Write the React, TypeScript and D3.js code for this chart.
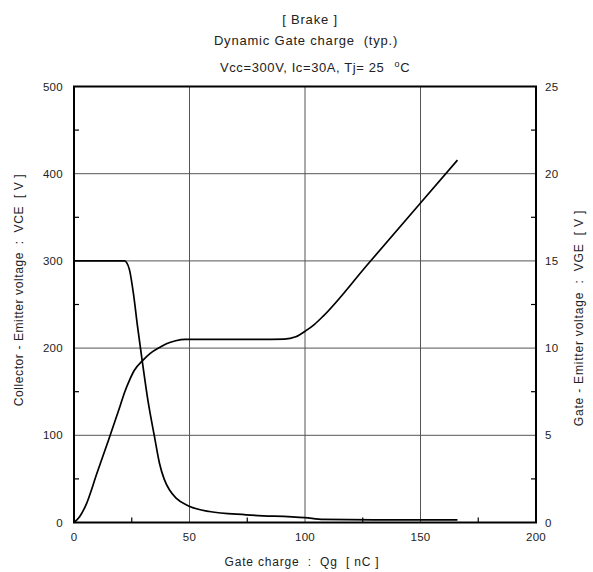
import React from "react";
import * as d3 from "d3";

const qgVce = [0, 10, 20, 21.8, 22.8, 24, 25.7, 27.5, 29.5, 32, 34.8, 37, 39, 41.3, 44.2, 49.6, 58.6, 74.5, 100, 108, 130, 166];
const vce = [300, 300, 300, 300, 298, 290, 263, 225, 186, 140, 99, 68, 50, 37.5, 28, 19, 12.6, 8.8, 5.5, 3.5, 3, 3];

const qgVge = [0, 2.5, 5, 10, 15, 20, 22, 24, 26, 29.8, 33, 37, 40, 44, 48, 60, 80, 91, 96, 100.4, 104, 108, 127, 150, 166];
const vge = [0, 0.35, 0.95, 2.85, 4.75, 6.7, 7.5, 8.15, 8.7, 9.3, 9.7, 10.03, 10.25, 10.42, 10.5, 10.5, 10.5, 10.52, 10.65, 11.0, 11.35, 11.85, 14.78, 18.32, 20.78];

const xTicks = [0, 50, 100, 150, 200];
const xMinor = [25, 75, 125, 175];
const yLeftTicks = [0, 100, 200, 300, 400, 500];
const yLeftMinor = [50, 150, 250, 350, 450];
const yRightTicks = [0, 5, 10, 15, 20, 25];
const yRightMinor = [2.5, 7.5, 12.5, 17.5, 22.5];

const titleLines = ["[ Brake ]", "Dynamic Gate charge  (typ.)"];
const xLabel = "Gate charge  :  Qg  [ nC ]";
const yLeftLabel = "Collector - Emitter voltage  :  VCE  [ V ]";
const yRightLabel = "Gate - Emitter voltage  :  VGE  [ V ]";

export default function App() {
  const L = 74, R = 536, T = 86.5, B = 522.5;
  const x = d3.scaleLinear().domain([0, 200]).range([L, R]);
  const yL = d3.scaleLinear().domain([0, 500]).range([B, T]);
  const yR = d3.scaleLinear().domain([0, 25]).range([B, T]);

  const lineVce = d3
    .line<number>()
    .x((_, i) => x(qgVce[i]))
    .y((d) => yL(d))
    .curve(d3.curveMonotoneX);
  const lineVge = d3
    .line<number>()
    .x((_, i) => x(qgVge[i]))
    .y((d) => yR(d))
    .curve(d3.curveMonotoneX);

  const font = "'Liberation Sans', Arial, Helvetica, sans-serif";
  const txt = "#222";
  const grid = "#555";
  const pre: React.CSSProperties = { whiteSpace: "pre" };

  return (
    <svg
      width={593}
      height={572}
      style={{ position: "absolute", left: 0, top: 0, background: "#fff" }}
      fontFamily={font}
    >
      <rect x={0} y={0} width={593} height={572} fill="#fff" />
      {/* titles */}
      <text x={310} y={24} fontSize={13} letterSpacing={0.8} textAnchor="middle" fill={txt} style={pre}>{titleLines[0]}</text>
      <text x={306} y={45} fontSize={13} letterSpacing={0.8} textAnchor="middle" fill={txt} style={pre}>{titleLines[1]}</text>
      <text x={220} y={72} fontSize={13} letterSpacing={0.6} fill={txt} style={pre}>
        {"Vcc=300V, Ic=30A, Tj= 25 "}
        <tspan dx={6} dy={-5} fontSize={9}>o</tspan>
        <tspan dy={5}>C</tspan>
      </text>

      {/* grid */}
      {xTicks.slice(1, -1).map((t) => (
        <line key={"gx" + t} x1={x(t)} x2={x(t)} y1={T} y2={B} stroke={grid} strokeWidth={1} />
      ))}
      {yLeftTicks.slice(1, -1).map((t) => (
        <line key={"gy" + t} x1={L} x2={R} y1={yL(t)} y2={yL(t)} stroke={grid} strokeWidth={1} />
      ))}

      {/* minor ticks */}
      {xMinor.map((t) => (
        <line key={"mx" + t} x1={x(t)} x2={x(t)} y1={B} y2={B - 5} stroke="#000" strokeWidth={1.2} />
      ))}
      {yLeftMinor.map((t) => (
        <line key={"ml" + t} x1={L} x2={L + 5} y1={yL(t)} y2={yL(t)} stroke="#000" strokeWidth={1.2} />
      ))}
      {yRightMinor.map((t) => (
        <line key={"mr" + t} x1={R} x2={R - 5} y1={yR(t)} y2={yR(t)} stroke="#000" strokeWidth={1.2} />
      ))}

      {/* curves */}
      <path d={lineVce(vce) || ""} fill="none" stroke="#000" strokeWidth={1.7} />
      <path d={lineVge(vge) || ""} fill="none" stroke="#000" strokeWidth={1.7} />

      {/* frame */}
      <rect x={L} y={T} width={R - L} height={B - T} fill="none" stroke="#000" strokeWidth={2} />

      {/* tick labels */}
      {xTicks.map((t) => (
        <text key={"xl" + t} x={x(t)} y={541} fontSize={11.5} letterSpacing={0.3} textAnchor="middle" fill={txt}>{t}</text>
      ))}
      {yLeftTicks.map((t) => (
        <text key={"yl" + t} x={63} y={yL(t) + 4} fontSize={11.5} letterSpacing={0.3} textAnchor="end" fill={txt}>{t}</text>
      ))}
      {yRightTicks.map((t) => (
        <text key={"yr" + t} x={545} y={yR(t) + 4} fontSize={11.5} letterSpacing={0.3} textAnchor="start" fill={txt}>{t}</text>
      ))}

      {/* axis labels */}
      <text x={302} y={566} fontSize={12} letterSpacing={0.8} textAnchor="middle" fill={txt} style={pre}>{xLabel}</text>
      <text
        transform={`translate(23,290) rotate(-90)`}
        fontSize={12}
        letterSpacing={0.6}
        textAnchor="middle"
        fill={txt}
        style={pre}
      >
        {yLeftLabel}
      </text>
      <text
        transform={`translate(583,318) rotate(-90)`}
        fontSize={12}
        letterSpacing={0.8}
        textAnchor="middle"
        fill={txt}
        style={pre}
      >
        {yRightLabel}
      </text>
    </svg>
  );
}
